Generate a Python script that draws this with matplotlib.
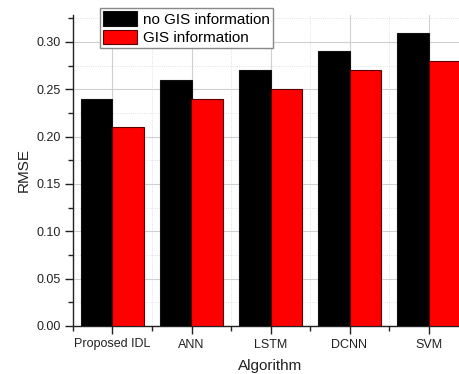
import matplotlib
matplotlib.use("Agg")
import matplotlib.pyplot as plt
import numpy as np
from matplotlib.ticker import MultipleLocator

categories = ["Proposed IDL", "ANN", "LSTM", "DCNN", "SVM"]
no_gis = [0.24, 0.26, 0.27, 0.29, 0.31]
gis = [0.21, 0.24, 0.25, 0.27, 0.28]
series_labels = ["no GIS information", "GIS information"]

plt.rcParams['font.family'] = ['Liberation Sans', 'DejaVu Sans']

fig = plt.figure(figsize=(4.6, 3.74), dpi=100)
ax = fig.add_axes([73/460, 48/374, 395/460, 311/374])

x = np.arange(1, len(categories) + 1)
w = 0.395
ax.bar(x - w/2, no_gis, w, color='black', edgecolor='#111111', linewidth=0.8,
       label=series_labels[0], zorder=3)
ax.bar(x + w/2, gis, w, color='#ff0000', edgecolor='#5a0000', linewidth=0.8,
       label=series_labels[1], zorder=3)

ax.set_xlim(0.5, 5.5)
ax.set_ylim(0, 0.3285)
ax.set_xticks(x)
ax.set_xticklabels(categories)
ax.xaxis.set_minor_locator(MultipleLocator(0.5))
ax.yaxis.set_major_locator(MultipleLocator(0.05))
ax.yaxis.set_minor_locator(MultipleLocator(0.025))
ax.yaxis.set_major_formatter(matplotlib.ticker.FormatStrFormatter('%.2f'))

ax.grid(which='major', color='#d0d0d0', linewidth=0.8, linestyle='-', zorder=0)
ax.grid(which='minor', color='#d8d8d8', linewidth=0.6, linestyle=':', zorder=0)
ax.set_axisbelow(True)

ax.tick_params(which='major', direction='out', length=6, width=1, labelsize=9,
               colors='#222222', labelcolor='#222222', pad=3)
ax.tick_params(which='minor', direction='out', length=3.5, width=1, colors='#222222')

for s in ['top', 'right']:
    ax.spines[s].set_visible(False)
for s in ['left', 'bottom']:
    ax.spines[s].set_color('#222222')
    ax.spines[s].set_linewidth(1)

ax.set_xlabel("Algorithm", fontsize=11, color='#222222', labelpad=6)
ax.set_ylabel("RMSE", fontsize=11, color='#222222', labelpad=4)

leg = ax.legend(loc='upper left', bbox_to_anchor=(100/460, 1 - 8/374),
                bbox_transform=fig.transFigure, fontsize=11, frameon=True,
                fancybox=False, edgecolor='#888888', framealpha=1,
                handlelength=2.25, handleheight=1.1, labelspacing=0.2,
                borderpad=0.2, handletextpad=0.35, borderaxespad=0)
leg.get_frame().set_linewidth(1)

fig.savefig("out.png", dpi=100)
